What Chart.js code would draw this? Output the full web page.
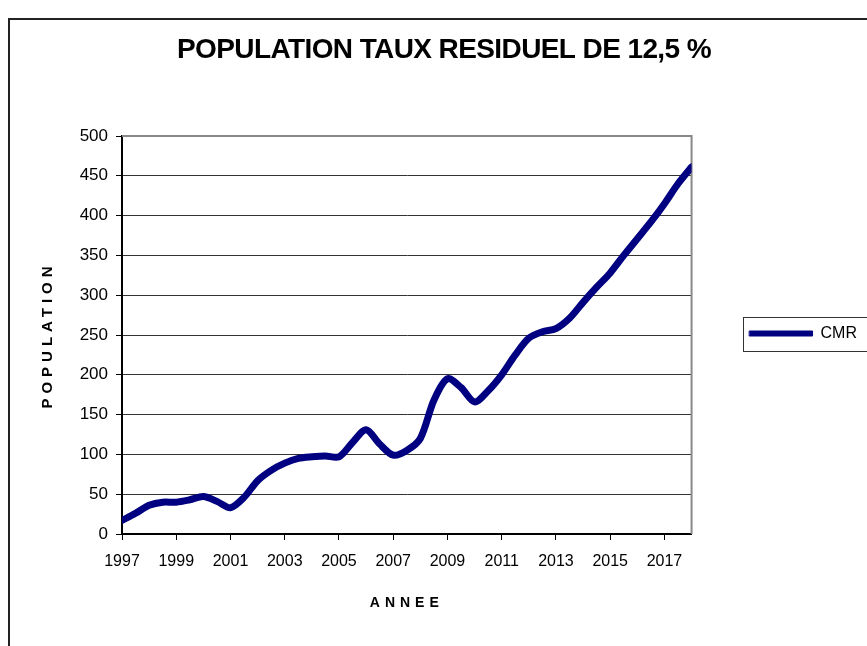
<!DOCTYPE html>
<html>
<head>
<meta charset="utf-8">
<script src="https://cdn.jsdelivr.net/npm/chart.js@4/dist/chart.umd.min.js"></script>
<style>
  html, body { margin: 0; padding: 0; background: #fff; }
  #wrap { width: 867px; height: 646px; position: relative; }
</style>
</head>
<body>
<div id="wrap"><canvas id="chart"></canvas></div>
<script>
// ── Données (lues sur le graphique, pas semestriel) ──
const periodes = [
  1997, 1997.5, 1998, 1998.5, 1999, 1999.5, 2000, 2000.5, 2001, 2001.5,
  2002, 2002.5, 2003, 2003.5, 2004, 2004.5, 2005, 2005.5, 2006, 2006.5,
  2007, 2007.5, 2008, 2008.5, 2009, 2009.5, 2010, 2010.5, 2011, 2011.5,
  2012, 2012.5, 2013, 2013.5, 2014, 2014.5, 2015, 2015.5, 2016, 2016.5,
  2017, 2017.5, 2018,
];
const cmr = [
  17, 26, 36, 40, 40, 43, 47, 41, 33, 46,
  67, 80, 89, 95, 97, 98, 97, 115, 131, 113,
  99, 105, 120, 168, 195, 184, 166, 180, 200, 225,
  246, 254, 258, 271, 291, 310, 328, 350, 371, 392,
  415, 440, 461,
];
const anneesAffichees = [1997, 1999, 2001, 2003, 2005, 2007, 2009, 2011, 2013, 2015, 2017];
const serieNom = 'CMR';

const FONT = "'Liberation Sans', Arial, sans-serif";
const NAVY = '#000080';
const LEGEND_DY = -6;

// letterSpacing pour les titres (Chart.js ne le gère pas)
function withSpacing(obj, fnName, spacing) {
  if (!obj || obj['_sp_' + fnName]) return;
  const orig = obj[fnName].bind(obj);
  obj[fnName] = function (...args) {
    const ctx = this.ctx;
    const prev = ctx.letterSpacing;
    ctx.letterSpacing = spacing;
    orig(...args);
    ctx.letterSpacing = prev;
  };
  obj['_sp_' + fnName] = true;
}

const cadrePlugin = {
  id: 'cadre',
  afterLayout(chart) {
    // remonte un peu la légende (centrée trop bas sinon)
    if (chart.legend) {
      chart.legend.top += LEGEND_DY;
      chart.legend.bottom += LEGEND_DY;
    }
  },
  beforeDraw(chart) {
    const ctx = chart.ctx;
    ctx.save();
    ctx.fillStyle = '#fff';
    ctx.fillRect(0, 0, chart.width, chart.height);
    ctx.strokeStyle = '#222';
    ctx.lineWidth = 2;
    ctx.strokeRect(9, 19, chart.width + 20, chart.height + 20);
    ctx.restore();
    withSpacing(chart.titleBlock, 'draw', '-0.6px');
    withSpacing(chart.scales.x, 'drawTitle', '5px');
    withSpacing(chart.scales.y, 'drawTitle', '5px');
  },
  beforeDatasetsDraw(chart) {
    const { ctx, chartArea: a } = chart;
    ctx.save();
    ctx.strokeStyle = '#888';
    ctx.lineWidth = 2;
    ctx.beginPath();
    ctx.moveTo(a.left, a.top);
    ctx.lineTo(a.right, a.top);
    ctx.lineTo(a.right, a.bottom);
    ctx.stroke();
    ctx.restore();
  },
  afterDraw(chart) {
    const hb = chart.legend && chart.legend.legendHitBoxes && chart.legend.legendHitBoxes[0];
    if (!hb) return;
    const { ctx, chartArea: a } = chart;
    const cy = (a.top + a.bottom) / 2 - 2;
    ctx.save();
    ctx.strokeStyle = '#333';
    ctx.lineWidth = 1;
    ctx.strokeRect(Math.round(hb.left - 7) + 0.5, Math.round(cy - 16) + 0.5, 200, 34);
    ctx.restore();
  },
};

new Chart(document.getElementById('chart'), {
  type: 'line',
  data: {
    datasets: [
      {
        label: serieNom,
        data: periodes.map((p, i) => ({ x: p, y: cmr[i] })),
        borderColor: NAVY,
        backgroundColor: NAVY,
        borderWidth: 7,
        borderCapStyle: 'round',
        borderJoinStyle: 'round',
        pointRadius: 0,
        pointHoverRadius: 0,
        tension: 0.3,
        fill: false,
      },
    ],
  },
  options: {
    responsive: true,
    maintainAspectRatio: false,
    animation: false,
    layout: { padding: { left: 21, right: 0, top: 33, bottom: 0 } },
    plugins: {
      title: {
        display: true,
        text: 'POPULATION TAUX RESIDUEL DE 12,5 %',
        color: '#000',
        font: { family: FONT, size: 28, weight: 'bold', lineHeight: 1.2 },
        padding: { top: 0, bottom: 69.4 },
      },
      legend: {
        position: 'right',
        labels: {
          color: '#000',
          boxWidth: 63,
          boxHeight: 5,
          padding: 58,
          font: { family: FONT, size: 16 },
          generateLabels(chart) {
            return Chart.defaults.plugins.legend.labels.generateLabels(chart).map((it) => ({
              ...it,
              lineWidth: 1,
            }));
          },
        },
      },
      tooltip: { enabled: false },
    },
    scales: {
      x: {
        type: 'linear',
        min: 1997,
        max: 2018,
        afterBuildTicks(scale) {
          scale.ticks = anneesAffichees.map((v) => ({ value: v }));
        },
        afterFit(scale) {
          scale.height = 112;
        },
        ticks: {
          color: '#000',
          font: { family: FONT, size: 16 },
          padding: 12,
          maxRotation: 0,
          autoSkip: false,
          callback: (v) => String(v),
        },
        grid: {
          drawOnChartArea: false,
          drawTicks: true,
          tickLength: 6,
          tickColor: '#000',
          color: '#000',
        },
        border: { color: '#000', width: 2 },
        title: {
          display: true,
          text: 'ANNEE',
          color: '#000',
          font: { family: FONT, size: 14, weight: 'bold', lineHeight: 1.2 },
          padding: { top: 0, bottom: 34 },
        },
      },
      y: {
        min: 0,
        max: 500,
        afterFit(scale) {
          scale.width = 101;
        },
        ticks: {
          stepSize: 50,
          color: '#000',
          font: { family: FONT, size: 17 },
          padding: 8,
        },
        grid: {
          color: '#333',
          lineWidth: 1,
          tickLength: 6,
          tickColor: '#000',
        },
        border: { color: '#000', width: 2 },
        title: {
          display: true,
          text: 'POPULATION',
          color: '#000',
          font: { family: FONT, size: 15, weight: 'bold', lineHeight: 1.2 },
          padding: { top: 18, bottom: 0 },
        },
      },
    },
  },
  plugins: [cadrePlugin],
});
</script>
</body>
</html>
